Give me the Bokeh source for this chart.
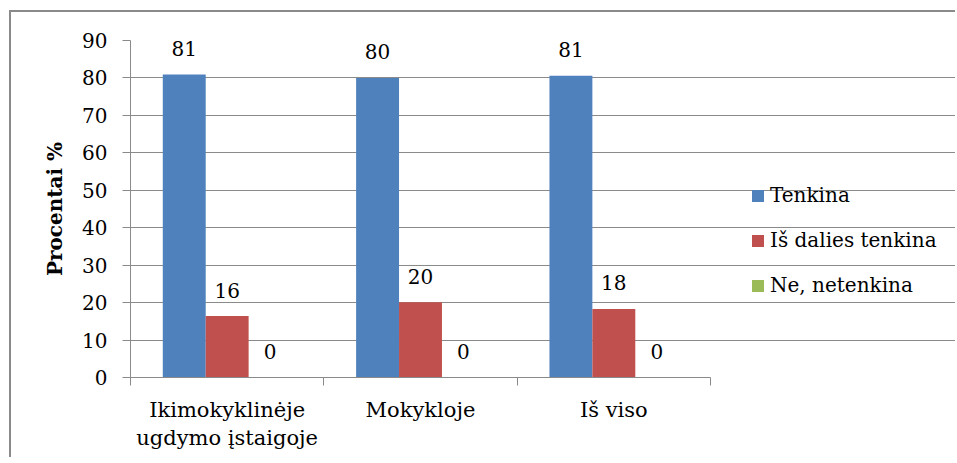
from bokeh.plotting import figure
from bokeh.models import FixedTicker, Range1d, ColumnDataSource
from bokeh.embed import file_html
from bokeh.resources import INLINE
from bokeh.core.properties import value
from bokeh.transform import dodge

categories = ["Ikimokyklinėje\nugdymo įstaigoje", "Mokykloje", "Iš viso"]
series = ["Tenkina", "Iš dalies tenkina", "Ne, netenkina"]
tenkina = [80.9, 80.0, 80.6]
is_dalies = [16.4, 20.1, 18.3]
netenkina = [0.0, 0.0, 0.0]
colors = ["#4F81BD", "#C0504D", "#9BBB59"]
y_ticks = [0, 10, 20, 30, 40, 50, 60, 70, 80, 90]

FONT = "DejaVu Serif"
GRID = "#8a8a8a"

W, H = 946, 447
LEFT, RIGHT, TOP, BOTTOM = 119, 2, 28, 82
PLOT_W = 580  # width of the bar area in px
frame_w = W - LEFT - RIGHT
n = len(categories)
x_end = n * frame_w / PLOT_W

p = figure(width=W, height=H, x_range=Range1d(0, x_end), y_range=Range1d(0, 90),
           output_backend="svg", toolbar_location=None,
           min_border_left=LEFT, min_border_right=RIGHT, min_border_top=TOP, min_border_bottom=BOTTOM)
p.styles = {"border-top": "2px solid #8a8a8a", "border-left": "2px solid #8a8a8a",
            "margin-left": "9px", "margin-top": "10px"}
p.outline_line_color = None
p.background_fill_color = "white"
p.border_fill_color = "white"

centers = [i + 0.5 for i in range(n)]
src = ColumnDataSource(dict(xc=centers, s0=tenkina, s1=is_dalies, s2=netenkina,
                            t0=[str(round(v)) for v in tenkina],
                            t1=[str(round(v)) for v in is_dalies],
                            t2=[str(round(v)) for v in netenkina]))
offsets = [-0.222, 0.0, 0.222]
bw = 0.222
for k in range(3):
    p.vbar(x=dodge("xc", offsets[k]), top="s%d" % k, width=bw, bottom=0, source=src,
           fill_color=colors[k], line_color=None, legend_label=series[k])
    p.text(x=dodge("xc", offsets[k]), y="s%d" % k, text="t%d" % k, source=src,
           text_font=value(FONT), text_font_size="20px", text_align="center",
           text_baseline="middle", y_offset=-26, text_color="black")

# y axis
p.yaxis.ticker = FixedTicker(ticks=y_ticks)
p.yaxis.axis_line_color = GRID
p.yaxis.major_tick_line_color = GRID
p.yaxis.major_tick_out = 8
p.yaxis.major_tick_in = 0
p.yaxis.minor_tick_line_color = None
p.yaxis.major_label_text_font = FONT
p.yaxis.major_label_text_font_size = "20px"
p.yaxis.major_label_text_color = "black"
p.yaxis.major_label_standoff = 15
p.yaxis.axis_label = "Procentai %"
p.yaxis.axis_label_text_font = FONT
p.yaxis.axis_label_text_font_size = "20px"
p.yaxis.axis_label_text_font_style = "bold"
p.yaxis.axis_label_text_color = "black"
p.yaxis.axis_label_standoff = 12

# x axis
p.xaxis.ticker = FixedTicker(ticks=centers, minor_ticks=list(range(n + 1)))
p.xaxis.major_label_overrides = {c: lab for c, lab in zip(centers, categories)}
p.xaxis.bounds = (0, n)
p.xaxis.axis_line_color = GRID
p.xaxis.major_tick_line_color = None
p.xaxis.minor_tick_line_color = GRID
p.xaxis.minor_tick_out = 8
p.xaxis.minor_tick_in = 0
p.xaxis.major_label_text_font = FONT
p.xaxis.major_label_text_font_size = "21px"
p.xaxis.major_label_text_color = "black"
p.xaxis.major_label_standoff = 12

p.xgrid.grid_line_color = None
p.ygrid.grid_line_color = GRID
p.ygrid.ticker = FixedTicker(ticks=y_ticks)
p.ygrid.bounds = (0, n)

lg = p.legend[0]
lg.location = (620, 80)
lg.margin = 0
lg.padding = 0
lg.border_line_color = None
lg.background_fill_alpha = 0
lg.glyph_width = 15
lg.glyph_height = 15
lg.label_height = 24
lg.spacing = 21
lg.label_standoff = 5
lg.label_text_font = FONT
lg.label_text_font_size = "20px"
lg.label_text_color = "black"

open("out.html", "w").write(file_html(p, INLINE))
